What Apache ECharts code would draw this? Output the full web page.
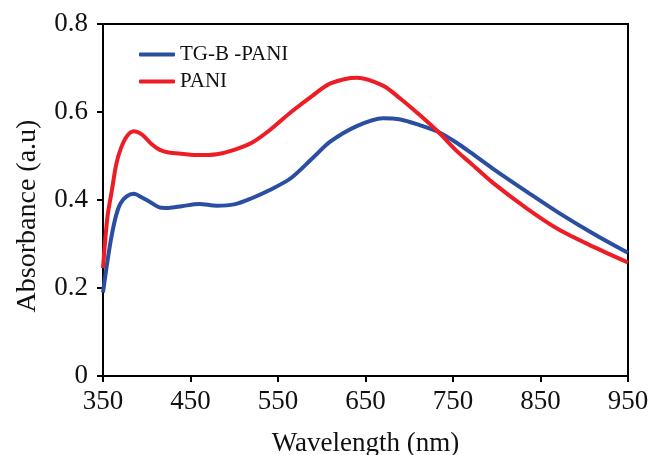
<!DOCTYPE html>
<html>
<head>
<meta charset="utf-8">
<script src="https://cdn.jsdelivr.net/npm/echarts@6/dist/echarts.min.js"></script>
<style>
html,body{margin:0;padding:0;background:#fff}
#Chart{width:658px;height:455px}
</style>
</head>
<body>
<div id="Chart"></div>
<script>
// wavelength (nm)
var wavelength=[350,355,360,365,370,377,385,395,405,415,425,440,460,480,500,520,540,565,590,610,640,670,690,712,733,755,770,795,835,870,910,950]
// TG-B -PANI absorbance
var tgbPani=[0.19,0.26,0.32,0.365,0.392,0.408,0.414,0.405,0.394,0.383,0.382,0.386,0.391,0.387,0.390,0.404,0.422,0.450,0.496,0.533,0.568,0.586,0.583,0.570,0.555,0.529,0.508,0.472,0.418,0.372,0.324,0.280]
// PANI absorbance
var pani=[0.245,0.36,0.42,0.48,0.515,0.544,0.556,0.548,0.528,0.514,0.508,0.505,0.502,0.504,0.514,0.530,0.558,0.600,0.638,0.665,0.678,0.660,0.630,0.593,0.555,0.510,0.484,0.440,0.380,0.334,0.294,0.258]
var xTicks=[350,450,550,650,750,850,950]
var yTicks=[0,0.2,0.4,0.6,0.8]
var seriesNames=['TG-B -PANI','PANI']

function pairs(ys){
    var out=[]
    for(var i=0;i<wavelength.length;i++){
        out.push([wavelength[i],ys[i]])
    }
    return out
}

var font='"Liberation Serif","Times New Roman",serif'
var myChart=echarts.init(document.getElementById('Chart'))
var option={
    animation:false,
    color:['#2a4ea2','#ee1d25'],
    grid:{left:103,right:30,top:24,bottom:79,show:true,borderColor:'#000',borderWidth:2,containLabel:false,outerBoundsMode:'none'},
    legend:{
        orient:'vertical',
        left:134,
        top:39,
        itemGap:6,
        itemWidth:36,
        itemHeight:4,
        icon:'roundRect',
        textStyle:{fontFamily:font,fontSize:21,color:'#111'},
        data:seriesNames
    },
    xAxis:{
        type:'value',
        min:350,
        max:950,
        name:'Wavelength (nm)',
        nameLocation:'middle',
        nameGap:54,
        nameTextStyle:{fontFamily:font,fontSize:27,color:'#111'},
        axisLine:{lineStyle:{color:'#000',width:2}},
        axisTick:{show:true,length:6,lineStyle:{color:'#000',width:2},customValues:xTicks},
        axisLabel:{fontFamily:font,fontSize:27,color:'#111',margin:12,customValues:xTicks},
        splitLine:{show:false}
    },
    yAxis:{
        type:'value',
        min:yTicks[0],
        max:yTicks[yTicks.length-1],
        interval:0.2,
        name:'Absorbance (a.u)',
        nameLocation:'middle',
        nameGap:61,
        nameTextStyle:{fontFamily:font,fontSize:28,color:'#111',padding:[0,32,0,0]},
        axisLine:{show:true,lineStyle:{color:'#000',width:2}},
        axisTick:{show:true,length:6,lineStyle:{color:'#000',width:2}},
        axisLabel:{fontFamily:font,fontSize:27,color:'#111',margin:15},
        splitLine:{show:false}
    },
    series:[
        {name:seriesNames[0],type:'line',data:pairs(tgbPani),smooth:0.3,showSymbol:false,symbol:'none',lineStyle:{width:4}},
        {name:seriesNames[1],type:'line',data:pairs(pani),smooth:0.3,showSymbol:false,symbol:'none',lineStyle:{width:4}}
    ]
}
myChart.setOption(option)
</script>
</body>
</html>
